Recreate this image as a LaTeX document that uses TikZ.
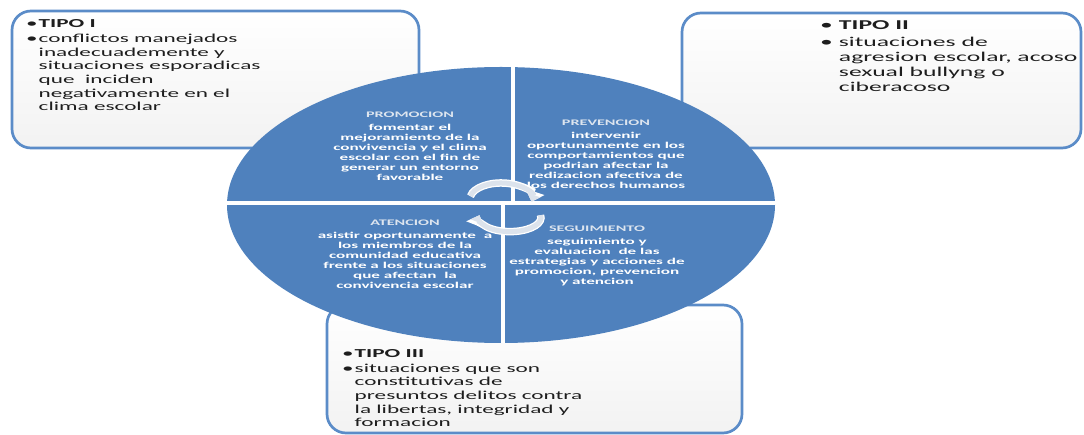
\documentclass[tikz,border=0pt]{standalone}
\usepackage{fontspec}
\setmainfont{Carlito}
\newfontfamily\widefont[FakeStretch=1.9]{Carlito}
\usetikzlibrary{arrows.meta}

\definecolor{circblue}{HTML}{4F81BD}
\definecolor{boxblue}{HTML}{5B8CC8}
\definecolor{arrowgray}{HTML}{DCE3EC}
\definecolor{headgray}{HTML}{DDE5EF}
\definecolor{textdark}{HTML}{1E1E1E}

\newcommand{\quadhead}[1]{{\fontsize{8.5}{10}\selectfont\color{headgray}#1}}

\begin{document}
\begin{tikzpicture}[x=1pt, y=-1pt,
    tipobox/.style={draw=boxblue, line width=2.7pt, rounded corners=19pt,
      top color=white, bottom color=black!5},
    tipotext/.style={inner sep=0pt, anchor=north west, text=textdark},
    quadtext/.style={inner sep=0pt, anchor=base, text=white,
      font=\widefont\bfseries\fontsize{9}{10}\selectfont},
    cyclearrow/.style={draw=arrowgray, line width=5pt,
      preaction={draw=white, line width=7.5pt},
      -{Triangle[length=0pt 1.4, width=0pt 2.6]}}]

    \useasboundingbox (0,0) rectangle (1084,435);

    % TIPO I (upper left box)
    \draw[tipobox] (12,11) rectangle (419,148);
    \node[tipotext, font=\widefont\fontsize{12.2}{13.7}\selectfont] (tipoI) at (26,17.7)
      {\begin{tabular}{@{}l@{\hspace{1pt}}l@{}}
        •&\textbf{TIPO I}\\[1.3pt]
        •&conflictos manejados\\
        &inadecuademente y\\
        &situaciones esporadicas\\
        &que~ inciden\\
        &negativamente en el\\
        &clima escolar
      \end{tabular}};

    % TIPO II (upper right box)
    \draw[tipobox] (682,13) rectangle (1081,148);
    \node[tipotext, font=\widefont\fontsize{13.5}{15}\selectfont] (tipoII) at (820,19)
      {\begin{tabular}{@{}l@{\hspace{6pt}}l@{}}
        •&\textbf{TIPO II}\\[2pt]
        •&situaciones de\\
        &agresion escolar, acoso\\
        &sexual bullyng o\\
        &ciberacoso
      \end{tabular}};

    % TIPO III (lower box)
    \draw[tipobox] (327,305) rectangle (742,433);
    \node[tipotext, font=\widefont\fontsize{12.2}{13.7}\selectfont] (tipoIII) at (342,347.4)
      {\begin{tabular}{@{}l@{\hspace{1pt}}l@{}}
        •&\textbf{TIPO III}\\[1.3pt]
        •&situaciones que son\\
        &constitutivas de\\
        &presuntos delitos contra\\
        &la libertas, integridad y\\
        &formacion
      \end{tabular}};

    % the split oval
    \fill[circblue] (501,205) ellipse (274 and 138);
    \begin{scope}
      \clip (501,205) ellipse (274 and 138);
      \draw[white, line width=4pt] (512.5,60) -- (512.5,203);
      \draw[white, line width=4pt] (503,203) -- (503,350);
      \draw[white, line width=3.5pt] (220,203) -- (785,203);
    \end{scope}

    % PROMOCION (upper left)
    \node[quadtext] (promocion) at (410,117.8)
      {\begin{tabular}[t]{@{}c@{}}
        \quadhead{PROMOCION}\\[3.2pt]
        fomentar el\\
        mejoramiento de la\\
        convivencia y el clima\\
        escolar con el fin de\\
        generar un entorno\\
        favorable
      \end{tabular}};

    % PREVENCION (upper right)
    \node[quadtext] (prevencion) at (606,125.8)
      {\begin{tabular}[t]{@{}c@{}}
        \quadhead{PREVENCION}\\[3.2pt]
        intervenir\\
        oportunamente en los\\
        comportamientos que\\
        podrian afectar la\\
        redizacion afectiva de\\
        los derechos humanos
      \end{tabular}};

    % ATENCION (lower left)
    \node[quadtext] (atencion) at (405,225.8)
      {\begin{tabular}[t]{@{}c@{}}
        \quadhead{ATENCION}\\[3.2pt]
        asistir oportunamente~ a\\
        los miembros de la\\
        comunidad educativa\\
        frente a los situaciones\\
        que afectan~ la\\
        convivencia escolar
      \end{tabular}};

    % SEGUIMIENTO (lower right)
    \node[quadtext] (seguimiento) at (597,231.8)
      {\begin{tabular}[t]{@{}c@{}}
        \quadhead{SEGUIMIENTO}\\[3.2pt]
        seguimiento y\\
        evaluacion~ de las\\
        estrategias y acciones de\\
        promocion, prevencion\\
        y atencion
      \end{tabular}};

    % cycle arrows in the middle
    \coordinate (cycA) at (470.5,196.2);
    \coordinate (cycB) at (540.5,215.2);
    \draw[cyclearrow] (cycA) arc[start angle=190, end angle=370, x radius=31, y radius=16];
    \draw[cyclearrow] (cycB) arc[start angle=-10, end angle=190, x radius=31, y radius=14];

  \end{tikzpicture}
\end{document}
